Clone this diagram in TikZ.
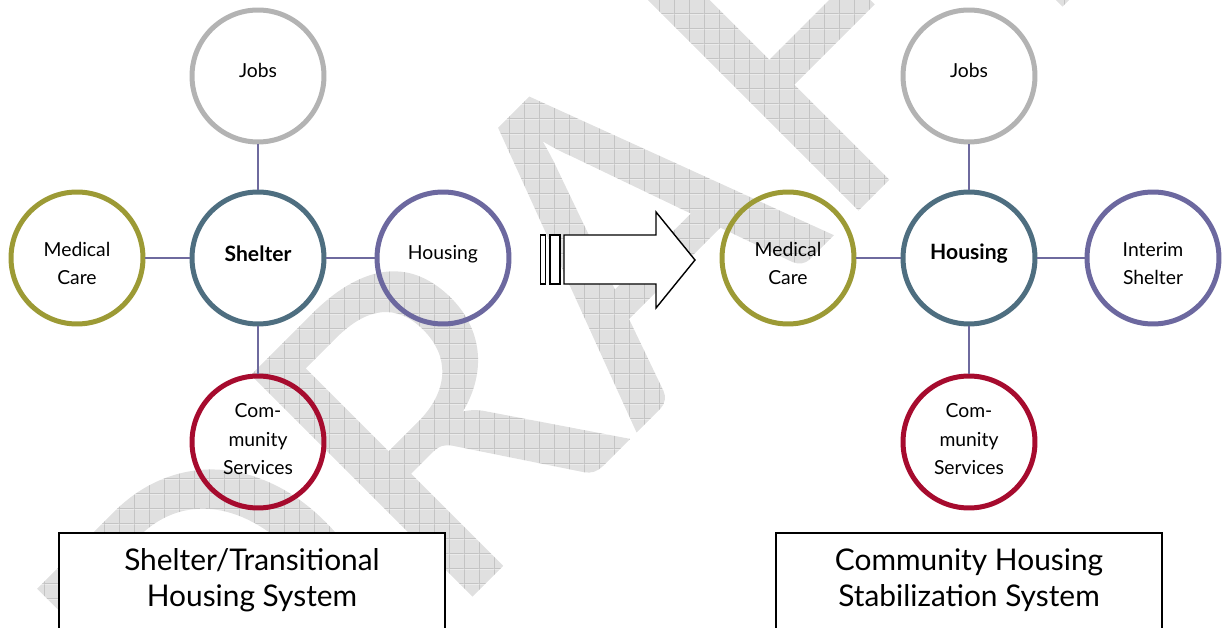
\documentclass[tikz,border=0pt]{standalone}
\usepackage{fontspec}
\setmainfont{Lato}
\newfontfamily\wmfont{Carlito}
\usetikzlibrary{positioning, patterns}

\definecolor{jobgray}{HTML}{B3B3B3}
\definecolor{hubblue}{HTML}{4E6E80}
\definecolor{medolive}{HTML}{9C9A35}
\definecolor{housepurple}{HTML}{6C689F}
\definecolor{svcred}{HTML}{A60B2E}
\definecolor{linkpurple}{HTML}{6E6A9E}
\definecolor{wmgray}{HTML}{DDDDDD}
\definecolor{wmfill}{HTML}{E0E0E0}
\definecolor{wmline}{HTML}{C4C4C4}

\pgfdeclarepatterninherentlycolored{wmgrid}{\pgfpointorigin}{\pgfqpoint{8.7pt}{8.7pt}}{\pgfqpoint{8.7pt}{8.7pt}}{
    \pgfsetfillcolor{wmfill}
    \pgfpathrectangle{\pgfpointorigin}{\pgfqpoint{8.7pt}{8.7pt}}
    \pgfusepath{fill}
    \pgfsetstrokecolor{wmline}
    \pgfsetlinewidth{0.45pt}
    \pgfpathmoveto{\pgfqpoint{0pt}{0.25pt}}\pgfpathlineto{\pgfqpoint{8.7pt}{0.25pt}}
    \pgfpathmoveto{\pgfqpoint{0.25pt}{0pt}}\pgfpathlineto{\pgfqpoint{0.25pt}{8.7pt}}
    \pgfusepath{stroke}
}

\newcommand{\hubup}[1]{\rule[-#1]{0pt}{0pt}}
\newcommand{\hubdown}{\rule{0pt}{0.5cm}}

\tikzset{
    hub/.style={circle, line width=0.1cm, minimum size=2.64cm, inner sep=0pt,
                align=center, font=\fontsize{11}{16}\selectfont},
    hubbold/.style={hub, font=\fontsize{12}{16}\selectfont\bfseries},
    link/.style={draw=linkpurple, line width=1pt},
    titlebox/.style={draw, line width=1.1pt, fill=white,
                     minimum width=7.72cm, minimum height=2.6cm, anchor=north},
    titletext/.style={align=center, font=\fontsize{17}{20.4}\selectfont},
    shiftarrow/.style={draw, line width=0.8pt, fill=white}
}

\begin{document}
\begin{tikzpicture}[x=0.02cm, y=-0.02cm]
            \useasboundingbox (0,0) rectangle (1225,628);
            \node[rotate=45, anchor=base west, inner sep=0pt, text=wmgray,
                  font=\wmfont\fontsize{278}{278}\selectfont] (watermark) at (235,834)
                  {\pgfsetfillpattern{wmgrid}{black}DRAFT};

            \node[hub, draw=jobgray] (ljobs) at (258,76) {Jobs\hubup{0.22cm}};
            \node[hubbold, draw=hubblue] (lshelter) at (258,258) {Shelter\hubup{0.18cm}};
            \node[hub, draw=medolive] (lmed) at (77,258) {\hubdown Medical\\Care};
            \node[hub, draw=housepurple] (lhousing) at (443,258) {Housing\hubup{0.22cm}};
            \node[hub, draw=svcred] (lcomm) at (258,442) {Com-\\munity\\Services\hubup{0.12cm}};
            \draw[link] (ljobs) -- (lshelter);
            \draw[link] (lmed) -- (lshelter);
            \draw[link] (lshelter) -- (lhousing);
            \draw[link] (lshelter) -- (lcomm);

            \node[hub, draw=jobgray] (rjobs) at (969,76) {Jobs\hubup{0.22cm}};
            \node[hubbold, draw=hubblue] (rhousing) at (969,258) {Housing\hubup{0.24cm}};
            \node[hub, draw=medolive] (rmed) at (788,258) {\hubdown Medical\\Care};
            \node[hub, draw=housepurple] (rinterim) at (1153,258) {\hubdown Interim\\Shelter};
            \node[hub, draw=svcred] (rcomm) at (969,442) {Com-\\munity\\Services\hubup{0.12cm}};
            \draw[link] (rjobs) -- (rhousing);
            \draw[link] (rmed) -- (rhousing);
            \draw[link] (rhousing) -- (rinterim);
            \draw[link] (rhousing) -- (rcomm);

            \draw[shiftarrow] (540.7,235) rectangle (545.7,284);
            \draw[shiftarrow] (550,235) rectangle (560,284);
            \draw[shiftarrow] (564,235) -- (656,235) -- (656,212) -- (695,260)
                -- (656,308) -- (656,284) -- (564,284) -- cycle;

            \node[titlebox] (lbox) at (252,532) {};
            \node[titletext] (ltitle) at (252,580) {Shelter/Transitional\\Housing System};
            \node[titlebox] (rbox) at (969,532) {};
            \node[titletext] (rtitle) at (969,580) {Community Housing\\Stabilization System};
        \end{tikzpicture}
\end{document}
